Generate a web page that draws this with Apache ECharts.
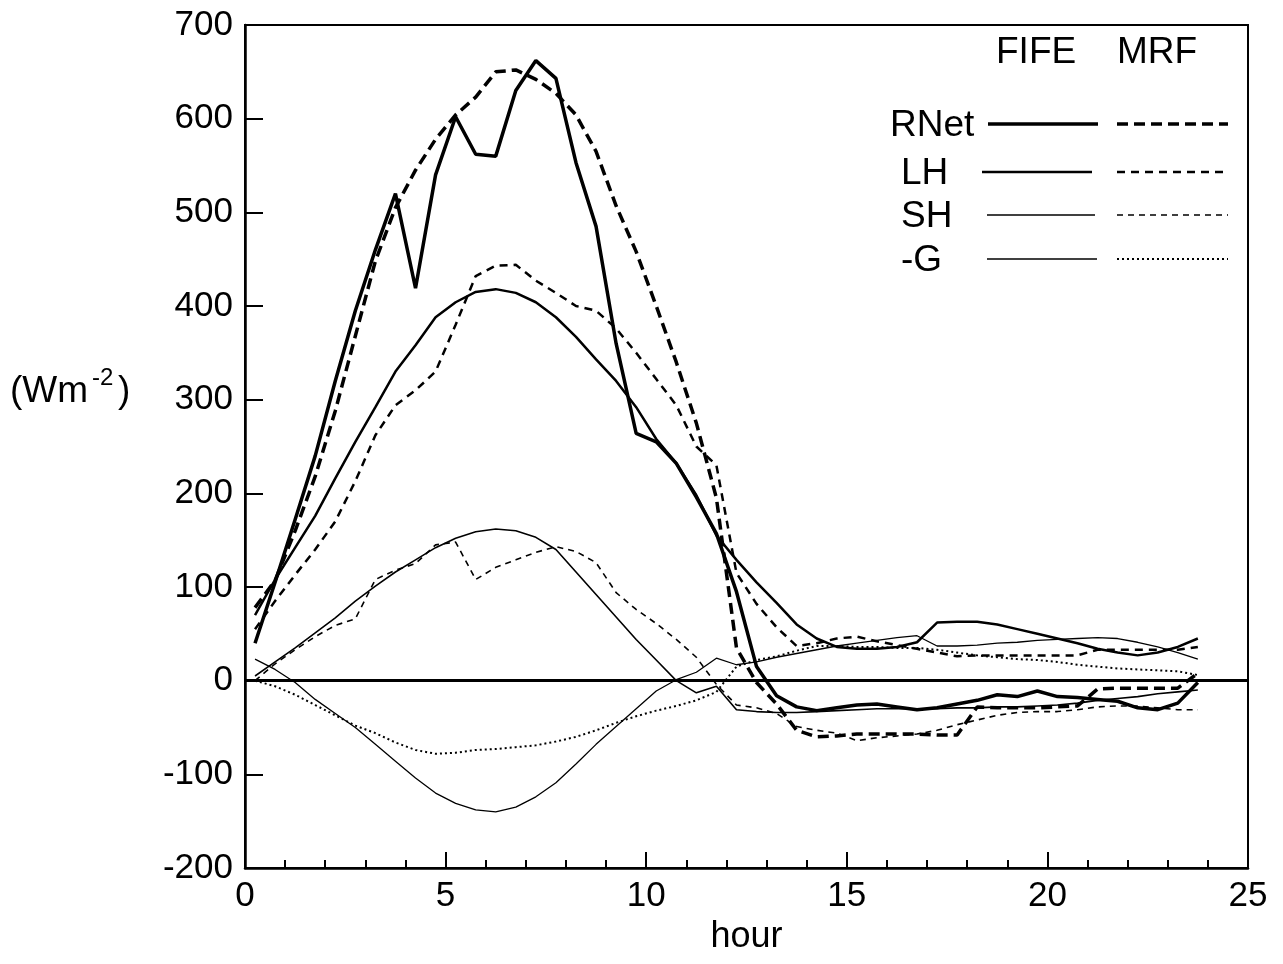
<!DOCTYPE html>
<html>
<head>
<meta charset="utf-8">
<script src="https://cdn.jsdelivr.net/npm/echarts@6/dist/echarts.min.js"></script>
<style>
html,body{margin:0;padding:0;background:#fff;}
#chart{width:1283px;height:964px;}
</style>
</head>
<body>
<div id="chart"></div>
<script>
// Half-hour sample times (hour)
const hours = [0.25,0.75,1.25,1.75,2.25,2.75,3.25,3.75,4.25,4.75,5.25,5.75,6.25,6.75,7.25,7.75,8.25,8.75,9.25,9.75,10.25,10.75,11.25,11.75,12.25,12.75,13.25,13.75,14.25,14.75,15.25,15.75,16.25,16.75,17.25,17.75,18.25,18.75,19.25,19.75,20.25,20.75,21.25,21.75,22.25,22.75,23.25,23.75];

// Fluxes (W m-2)
const fifeRNet = [40,105,172,240,320,395,460,520,419,540,602,562,560,630,662,643,553,485,360,264,255,232,196,157,95,15,-16,-28,-32,-29,-26,-25,-28,-31,-29,-25,-21,-15,-17,-11,-17,-18,-20,-22,-29,-31,-24,-2];
const mrfRNet  = [78,107,160,218,288,368,448,505,545,578,604,623,650,652,642,627,604,565,507,458,400,340,275,195,35,-2,-25,-53,-60,-59,-57,-57,-57,-57,-58,-58,-28,-29,-29,-29,-28,-27,-9,-8,-8,-8,-8,8];
const fifeLH   = [70,108,142,176,216,255,292,330,358,388,404,415,418,414,404,388,367,343,320,292,258,232,198,155,129,105,83,60,45,36,34,34,36,41,62,63,63,60,55,50,45,40,34,30,27,30,36,45];
const mrfLH    = [55,85,113,140,170,213,262,294,310,330,380,432,443,444,427,414,400,395,376,350,322,294,250,230,115,82,57,37,40,45,47,42,38,34,30,26,27,27,27,27,27,27,33,33,33,33,33,36];
const fifeSH   = [5,20,35,51,67,85,101,116,129,142,152,159,162,160,153,140,116,92,68,44,22,0,-13,-6,-31,-33,-34,-34,-33,-32,-31,-30,-30,-30,-30,-29,-29,-28,-28,-27,-26,-24,-21,-19,-17,-14,-12,-10];
const mrfSH    = [0,18,33,47,59,66,108,118,125,145,148,108,121,129,137,143,138,126,94,76,61,44,25,-4,-26,-29,-35,-49,-53,-56,-64,-61,-59,-57,-53,-47,-42,-37,-34,-33,-33,-31,-28,-27,-27,-29,-31,-31];
const fifeG    = [23,12,-2,-20,-35,-50,-68,-86,-104,-120,-131,-138,-140,-135,-124,-109,-89,-68,-49,-30,-11,1,9,24,17,20,25,29,33,37,40,43,46,48,37,37,38,40,41,43,44,45,46,45,41,36,30,23];
const mrfG     = [0,-6,-15,-26,-37,-48,-56,-66,-74,-78,-77,-74,-73,-71,-69,-65,-60,-53,-45,-38,-32,-27,-21,-12,15,22,26,32,37,37,36,36,35,35,33,30,27,25,23,22,20,17,15,13,12,11,10,6];

const seriesNames = ['RNet','LH','SH','-G'];
const sourceNames = ['FIFE','MRF'];

const FONT = '"Liberation Sans", Arial, sans-serif';
const pair = v => hours.map((h,i)=>[h,v[i]]);

const styles = {
  fifeRNet:{width:3.5,type:'solid'},
  mrfRNet:{width:3.5,type:[11,6]},
  fifeLH:{width:2.5,type:'solid'},
  mrfLH:{width:2.5,type:[8,6]},
  fifeSH:{width:1.6,type:'solid'},
  mrfSH:{width:1.6,type:[6,5]},
  fifeG:{width:1.3,type:'solid'},
  mrfG:{width:2,type:[2,3]}
};

function mk(name, arr, st, extra){
  return Object.assign({
    name:name, type:'line', data:pair(arr), showSymbol:false, symbol:'none',
    lineStyle:{color:'#000', width:st.width, type:st.type},
    animation:false, z:3
  }, extra||{});
}

const chart = echarts.init(document.getElementById('chart'), null, {renderer:'canvas'});

// legend sample geometry
const rowsY = [124, 172, 215, 259];
const fifeX = [[988,1098],[982,1092],[987,1095],[987,1097]];
const mrfX = [1117,1228];
const legendStyles = [[styles.fifeRNet,styles.mrfRNet],[styles.fifeLH,styles.mrfLH],[styles.fifeSH,styles.mrfSH],[styles.fifeG,styles.mrfG]];
const labelX = [890,901,901,901];

const graphics = [];
graphics.push({type:'text', left:996, top:34, style:{text:sourceNames[0], font:'37px '+FONT, fill:'#000'}});
graphics.push({type:'text', left:1117, top:34, style:{text:sourceNames[1], font:'37px '+FONT, fill:'#000'}});
seriesNames.forEach((n,i)=>{
  graphics.push({type:'text', left:labelX[i], top:rowsY[i]-17, style:{text:n, font:'37px '+FONT, fill:'#000'}});
  graphics.push({type:'line', shape:{x1:fifeX[i][0], y1:rowsY[i], x2:fifeX[i][1], y2:rowsY[i]}, style:{stroke:'#000', lineWidth:legendStyles[i][0].width, lineDash: legendStyles[i][0].type==='solid'?null:legendStyles[i][0].type}});
  graphics.push({type:'line', shape:{x1:mrfX[0], y1:rowsY[i], x2:mrfX[1], y2:rowsY[i]}, style:{stroke:'#000', lineWidth:legendStyles[i][1].width, lineDash: legendStyles[i][1].type}});
});
// y-axis unit label with superscript
graphics.push({type:'text', left:10, top:373, style:{text:'(Wm', font:'37px '+FONT, fill:'#000'}});
graphics.push({type:'text', left:92, top:366, style:{text:'-2', font:'24px '+FONT, fill:'#000'}});
graphics.push({type:'text', left:118, top:373, style:{text:')', font:'37px '+FONT, fill:'#000'}});

const option = {
  backgroundColor:'#fff',
  animation:false,
  grid:{left:245, right:35, top:25, bottom:96, show:true, borderColor:'#000', borderWidth:2, containLabel:false},
  xAxis:{
    type:'value', min:0, max:25, interval:5,
    name:'hour', nameLocation:'middle', nameGap:50,
    nameTextStyle:{fontFamily:FONT, fontSize:36, color:'#000'},
    axisLine:{show:true, onZero:false, lineStyle:{color:'#000', width:2.5}},
    axisTick:{show:true, inside:true, length:16, lineStyle:{color:'#000', width:2}},
    minorTick:{show:true, splitNumber:5, length:8, lineStyle:{color:'#000', width:2}},
    axisLabel:{fontFamily:FONT, fontSize:35, color:'#000', margin:11},
    splitLine:{show:false}
  },
  yAxis:{
    type:'value', min:-200, max:700, interval:100,
    axisLine:{show:true, onZero:false, lineStyle:{color:'#000', width:2.5}},
    axisTick:{show:true, inside:true, length:18, lineStyle:{color:'#000', width:2}},
    axisLabel:{fontFamily:FONT, fontSize:35, color:'#000', margin:12},
    splitLine:{show:false}
  },
  graphic: graphics,
  series:[
    mk('FIFE RNet', fifeRNet, styles.fifeRNet, {markLine:{silent:true, symbol:'none', label:{show:false}, lineStyle:{color:'#000', width:3, type:'solid'}, data:[{yAxis:0}], animation:false}}),
    mk('MRF RNet', mrfRNet, styles.mrfRNet),
    mk('FIFE LH', fifeLH, styles.fifeLH),
    mk('MRF LH', mrfLH, styles.mrfLH),
    mk('FIFE SH', fifeSH, styles.fifeSH),
    mk('MRF SH', mrfSH, styles.mrfSH),
    mk('FIFE -G', fifeG, styles.fifeG),
    mk('MRF -G', mrfG, styles.mrfG)
  ]
};
chart.setOption(option);
</script>
</body>
</html>
